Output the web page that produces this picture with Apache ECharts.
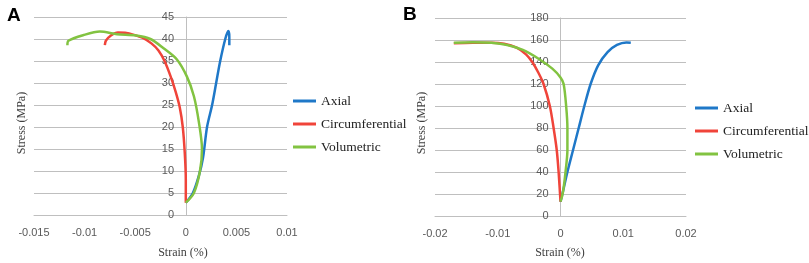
<!DOCTYPE html>
<html>
<head>
<meta charset="utf-8">
<script src="https://cdn.jsdelivr.net/npm/echarts@6/dist/echarts.min.js"></script>
<style>
  html, body { margin: 0; padding: 0; background: #fff; }
  #chart { width: 809px; height: 263px; }
</style>
</head>
<body>
<div id="chart"></div>
<script>
// panel A: strain (%) vs stress (MPa)
var axialA = [[0, 2.8], [0.0007, 5], [0.0013, 9], [0.0017, 13], [0.0021, 20], [0.0026, 25], [0.003, 30], [0.0034, 35], [0.0039, 40], [0.0042, 41.8], [0.0043, 40.5], [0.0043, 38.6]];
var circA = [[-0.008, 38.6], [-0.0079, 39.6], [-0.0074, 40.8], [-0.0067, 41.5], [-0.006, 41.4], [-0.0052, 41], [-0.0042, 40.2], [-0.0034, 39], [-0.0027, 37.4], [-0.0021, 35], [-0.0015, 31.5], [-0.001, 28], [-0.0006, 24.5], [-0.0003, 20], [-0.0001, 14], [0, 8], [0, 2.8]];
var volA = [[-0.0117, 38.6], [-0.0116, 39.6], [-0.0101, 40.9], [-0.0085, 41.7], [-0.0068, 41.1], [-0.0049, 40.8], [-0.0035, 40], [-0.0022, 37.9], [-0.0009, 35.4], [0.0001, 31.5], [0.0008, 27], [0.0013, 21], [0.0016, 15], [0.0014, 10], [0.0008, 5], [0, 2.8]];

// panel B
var axialB = [[0, 13], [0.0003, 20], [0.0011, 40], [0.002, 60], [0.0029, 80], [0.0038, 100], [0.0048, 120], [0.006, 137], [0.0075, 149], [0.009, 155.5], [0.0105, 157.8], [0.0112, 157.5]];
var circB = [[-0.017, 157], [-0.014, 157.5], [-0.011, 157.5], [-0.009, 156.5], [-0.007, 153], [-0.0055, 147], [-0.0045, 140], [-0.0035, 130], [-0.0027, 120], [-0.0017, 100], [-0.0011, 80], [-0.0006, 60], [-0.0003, 40], [0, 13]];
var volB = [[-0.017, 157.5], [-0.014, 158], [-0.011, 157.5], [-0.0085, 155.5], [-0.006, 151], [-0.0035, 143], [-0.0013, 134], [0, 126], [0.0005, 120], [0.0009, 100], [0.0011, 80], [0.0011, 60], [0.0008, 40], [0.0004, 22], [0, 13]];

var seriesNames = ["Axial", "Circumferential", "Volumetric"];
var colors = ["#1f78c8", "#f0443a", "#82c341"];

var chart = echarts.init(document.getElementById("chart"));

var labelStyle = { color: "#595959", fontSize: 11, fontFamily: "Liberation Sans" };
var gridLine = { lineStyle: { color: "#bfbfbf", width: 1 } };

function lineSeries(name, data, idx, axisIdx) {
  return {
    name: name,
    type: "line",
    data: data,
    xAxisIndex: axisIdx,
    yAxisIndex: axisIdx,
    showSymbol: false,
    smooth: 0.3,
    lineStyle: { color: colors[idx], width: 2.5 },
    itemStyle: { color: colors[idx] },
  };
}

var legendText = { fontFamily: "Liberation Serif", fontSize: 13.5, color: "#222", lineHeight: 14 };

var option = {
  animation: false,
  title: [
    { text: "A", left: 2, top: 1, textStyle: { fontSize: 19, fontWeight: "bold", color: "#000", fontFamily: "Liberation Sans" } },
    { text: "B", left: 398, top: 0, textStyle: { fontSize: 19, fontWeight: "bold", color: "#000", fontFamily: "Liberation Sans" } },
  ],
  legend: [
    {
      data: seriesNames, orient: "vertical", left: 293, top: 94, padding: 0,
      icon: "rect", itemWidth: 23, itemHeight: 3, itemGap: 9, textStyle: legendText,
    },
    {
      data: seriesNames, orient: "vertical", left: 695, top: 101, padding: 0,
      icon: "rect", itemWidth: 23, itemHeight: 3, itemGap: 9, textStyle: legendText,
    },
  ],
  grid: [
    { left: 34, top: 17, width: 253, height: 198 },
    { left: 435, top: 18, width: 251, height: 198 },
  ],
  xAxis: [
    {
      type: "value", gridIndex: 0, min: -0.015, max: 0.01, interval: 0.005,
      axisLine: Object.assign({ onZero: false }, gridLine), axisTick: { show: false }, splitLine: { show: false },
      axisLabel: Object.assign({ margin: 12 }, labelStyle),
    },
    {
      type: "value", gridIndex: 1, min: -0.02, max: 0.02, interval: 0.01,
      axisLine: Object.assign({ onZero: false }, gridLine), axisTick: { show: false }, splitLine: { show: false },
      axisLabel: Object.assign({ margin: 12 }, labelStyle),
    },
  ],
  yAxis: [
    {
      // shifted right so that the axis sits on strain = 0
      type: "value", gridIndex: 0, min: 0, max: 45, interval: 5, position: "left", offset: -152,
      axisLine: Object.assign({ show: true, onZero: false }, gridLine),
      axisTick: { show: false }, splitLine: gridLine,
      axisLabel: Object.assign({ margin: 12 }, labelStyle),
    },
    {
      type: "value", gridIndex: 1, min: 0, max: 180, interval: 20, position: "left", offset: -125.5,
      axisLine: Object.assign({ show: true, onZero: false }, gridLine),
      axisTick: { show: false }, splitLine: gridLine,
      axisLabel: Object.assign({ margin: 12 }, labelStyle),
    },
  ],
  graphic: [
    { type: "text", x: 183, y: 253, style: { text: "Strain (%)", font: "12px Liberation Serif", fill: "#404040", textAlign: "center", textVerticalAlign: "middle" } },
    { type: "text", x: 560, y: 253, style: { text: "Strain (%)", font: "12px Liberation Serif", fill: "#404040", textAlign: "center", textVerticalAlign: "middle" } },
    { type: "text", x: 22, y: 123, rotation: Math.PI / 2, style: { text: "Stress (MPa)", font: "12px Liberation Serif", fill: "#404040", textAlign: "center", textVerticalAlign: "middle" } },
    { type: "text", x: 422, y: 123, rotation: Math.PI / 2, style: { text: "Stress (MPa)", font: "12px Liberation Serif", fill: "#404040", textAlign: "center", textVerticalAlign: "middle" } },
  ],
  series: [
    lineSeries("Axial", axialA, 0, 0),
    lineSeries("Circumferential", circA, 1, 0),
    lineSeries("Volumetric", volA, 2, 0),
    lineSeries("Axial", axialB, 0, 1),
    lineSeries("Circumferential", circB, 1, 1),
    lineSeries("Volumetric", volB, 2, 1),
  ],
};

chart.setOption(option);
</script>
</body>
</html>
